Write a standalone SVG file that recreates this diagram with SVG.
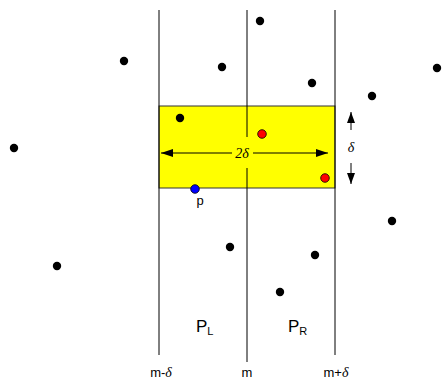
<svg xmlns="http://www.w3.org/2000/svg" width="442" height="379" viewBox="0 0 442 379">
<defs>
<marker id="ah" viewBox="0 0 12 8" refX="12" refY="4" markerWidth="12" markerHeight="8" markerUnits="userSpaceOnUse" orient="auto"><path d="M0,0 L12,4 L0,8 Z" fill="#000"/></marker>
<marker id="av" viewBox="0 0 11 8" refX="11" refY="4" markerWidth="11" markerHeight="8" markerUnits="userSpaceOnUse" orient="auto"><path d="M0,0 L11,4 L0,8 Z" fill="#000"/></marker>
<style>
.ln{stroke:#000;stroke-width:1;fill:none}
.pt{fill:#000}
.hl{stroke:#000;stroke-width:0.8}
.t{font-family:"Liberation Sans",Arial,sans-serif;font-size:13px;fill:#000}
.big{font-family:"Liberation Sans",Arial,sans-serif;font-size:17px;fill:#000}
.g{font-family:"Liberation Serif","Times New Roman",serif;font-style:italic;font-size:14px;fill:#000}
</style>
</defs>
<rect width="442" height="379" fill="#fff"/>
<g id="strip">
<rect x="159" y="106" width="176" height="82" fill="#ffff00" stroke="#333" stroke-width="1"/>
</g>
<g id="connectors">
<line class="ln" x1="159" y1="10" x2="159" y2="355"/>
<line class="ln" x1="335" y1="10" x2="335" y2="355"/>
<line class="ln" x1="247" y1="10" x2="247" y2="362"/>
<line class="ln" x1="232" y1="153" x2="161" y2="153" marker-end="url(#ah)"/>
<line class="ln" x1="253" y1="153" x2="328" y2="153" marker-end="url(#ah)"/>
<line class="ln" x1="351" y1="130" x2="351" y2="112" marker-end="url(#av)"/>
<line class="ln" x1="351" y1="163" x2="351" y2="184" marker-end="url(#av)"/>
<rect x="232" y="137" width="21" height="31" fill="#ffff00"/>
</g>
<g id="labels">
<text class="g" x="242" y="158" text-anchor="middle">2δ</text>
<text class="g" x="351" y="152" text-anchor="middle">δ</text>
<text class="t" x="200" y="205" text-anchor="middle">p</text>
<text class="big" x="196" y="332">P<tspan font-size="11" dy="3">L</tspan></text>
<text class="big" x="288" y="332">P<tspan font-size="11" dy="3">R</tspan></text>
<text class="t" x="161" y="377" text-anchor="middle">m-<tspan font-family="Liberation Serif,serif" font-style="italic" font-size="14">δ</tspan></text>
<text class="t" x="247" y="377" text-anchor="middle">m</text>
<text class="t" x="336" y="377" text-anchor="middle">m+<tspan font-family="Liberation Serif,serif" font-style="italic" font-size="14">δ</tspan></text>
</g>
<g id="points">
<circle class="pt" cx="124" cy="61" r="4.2"/>
<circle class="pt" cx="260" cy="21" r="4.2"/>
<circle class="pt" cx="222" cy="67" r="4.2"/>
<circle class="pt" cx="312" cy="83" r="4.2"/>
<circle class="pt" cx="437" cy="68" r="4.2"/>
<circle class="pt" cx="372" cy="96" r="4.2"/>
<circle class="pt" cx="14" cy="148" r="4.2"/>
<circle class="pt" cx="180" cy="118" r="4.2"/>
<circle class="pt" cx="392" cy="221" r="4.2"/>
<circle class="pt" cx="230" cy="247" r="4.2"/>
<circle class="pt" cx="315" cy="255" r="4.2"/>
<circle class="pt" cx="57" cy="266" r="4.2"/>
<circle class="pt" cx="280" cy="292" r="4.2"/>
<circle class="hl" cx="262" cy="134" r="4.3" fill="#ff0000"/>
<circle class="hl" cx="325" cy="178" r="4.3" fill="#ff0000"/>
<circle class="hl" cx="195" cy="189" r="4.3" fill="#0000ff"/>
</g>
</svg>
